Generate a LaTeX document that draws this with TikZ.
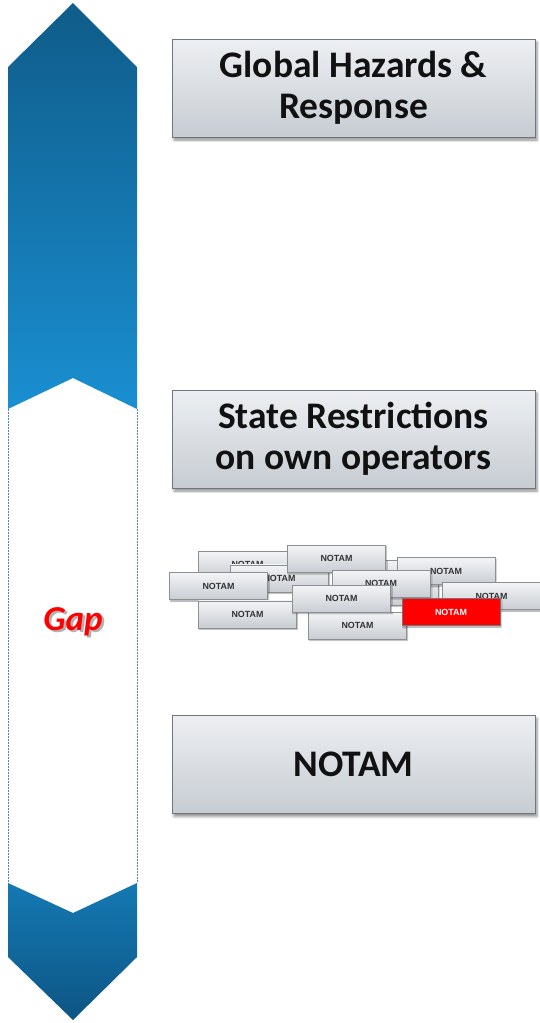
\documentclass[tikz,border=0pt]{standalone}
\usepackage{fontspec}
\setmainfont{Carlito}
\newfontfamily\smallsans{Liberation Sans}
\usetikzlibrary{shadows.blur}

\definecolor{arrowdark}{HTML}{0F5C89}
\definecolor{arrowlight}{HTML}{1A8FD1}
\definecolor{arrowmid}{HTML}{1579B3}
\definecolor{arrowbottom}{HTML}{0D5584}
\definecolor{dashblue}{HTML}{4F86BF}
\definecolor{boxtop}{HTML}{EDEFF2}
\definecolor{boxbottom}{HTML}{C6CCD2}
\definecolor{boxedge}{HTML}{6F767D}
\definecolor{boxtext}{HTML}{111111}
\definecolor{smalltop}{HTML}{F3F4F6}
\definecolor{smallbottom}{HTML}{C9CDD2}
\definecolor{smalledge}{HTML}{8C9095}
\definecolor{notamtext}{HTML}{333333}
\definecolor{gapred}{HTML}{FF0000}

% word with a soft grey drop shadow behind it
\newcommand{\shadowword}[1]{%
  \makebox[0pt][l]{\hspace{2.5pt}\raisebox{-2.5pt}{\textcolor{black!30}{#1}}}#1}

\begin{document}
\begin{tikzpicture}[x=1pt,y=-1pt,
  bigbox/.style={draw=boxedge, line width=0.9pt, top color=boxtop, bottom color=boxbottom,
    minimum width=363pt, minimum height=98pt, inner sep=0pt, align=center,
    font=\bfseries\fontsize{37.5}{41}\selectfont, text=boxtext,
    blur shadow={shadow xshift=2pt, shadow yshift=-3pt, shadow blur radius=2.5pt, shadow opacity=45}},
  notambox/.style={draw=smalledge, line width=0.6pt, top color=smalltop, bottom color=smallbottom,
    minimum width=98pt, minimum height=27pt, inner sep=0pt,
    font=\smallsans\bfseries\fontsize{8.9}{10}\selectfont, text=notamtext,
    blur shadow={shadow xshift=1pt, shadow yshift=-1.5pt, shadow blur radius=1pt, shadow opacity=35}},
  alertbox/.style={notambox, top color=gapred, bottom color=gapred, text=white, draw=boxedge},
  arrowdash/.style={draw=dashblue, line width=0.6pt, dash pattern=on 2pt off 1pt},
]
\useasboundingbox (0,0) rectangle (539,1023);

% vertical double-headed band: upper head
\shade[top color=arrowdark, bottom color=arrowlight]
  (8,67) -- (73,3) -- (137,67) -- (137,409) -- (73,378) -- (8,409) -- cycle;
% lower head
\shade[top color=arrowmid, bottom color=arrowbottom]
  (8,883) -- (73,913) -- (137,883) -- (137,957) -- (73,1020) -- (8,957) -- cycle;
% dashed sides of the open middle section
\draw[arrowdash] (8,409) -- (8,883);
\draw[arrowdash] (137,409) -- (137,883);

% label of the middle section
\node[text=gapred, font=\bfseries\itshape\fontsize{35}{38}\selectfont] (gap) at (73,623) {\shadowword{Gap}};

% main boxes
\node[bigbox] (hazards) at (353.5,88) {Global Hazards \&\\Response};
\node[bigbox] (state) at (353.5,439) {State Restrictions\\on own operators};
\node[bigbox] (notam) at (353.5,764.5) {NOTAM};

% pile of individual NOTAMs, back to front
\node[notambox] (n1) at (387,573.5) {};
\node[notambox] (n2) at (389,591.5) {};
\node[notambox] (n3) at (247.5,564.5) {NOTAM};
\node[notambox] (n4) at (279.5,578.3) {NOTAM};
\node[notambox] (n5) at (218.5,586) {NOTAM};
\node[notambox] (n6) at (336.5,558.7) {NOTAM};
\node[notambox] (n7) at (446,571) {NOTAM};
\node[notambox] (n8) at (381,583.7) {NOTAM};
\node[notambox] (n9) at (247.5,614.3) {NOTAM};
\node[notambox] (n10) at (357.5,625.5) {NOTAM};
\node[notambox] (n11) at (341.5,598.8) {NOTAM};
\node[notambox] (n12) at (491.5,596) {NOTAM};
\node[alertbox] (n13) at (451,612) {NOTAM};
\end{tikzpicture}
\end{document}
